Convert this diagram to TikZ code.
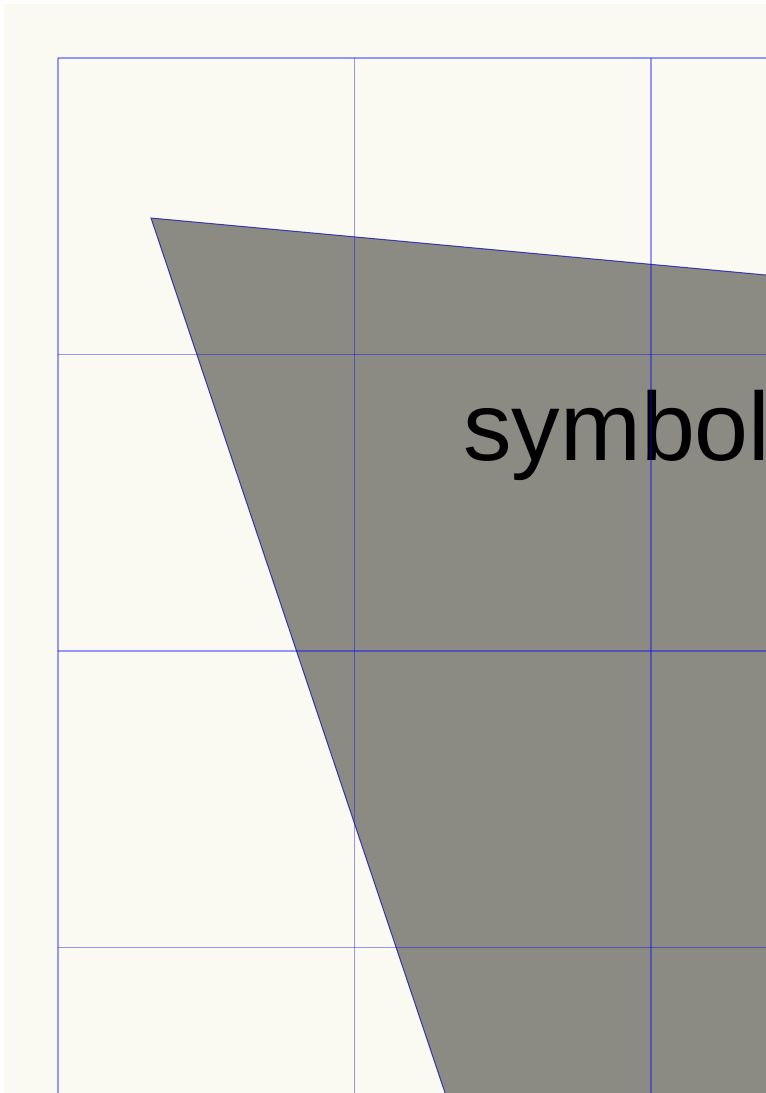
\documentclass[tikz,border=0pt]{standalone}
\usepackage{fontspec}
\setmainfont{Liberation Sans}
\usepackage{tikz}
\usetikzlibrary{positioning}
\definecolor{paper}{RGB}{250,250,242}
\definecolor{shadegray}{RGB}{139,139,132}
\definecolor{gridblue}{RGB}{0,0,255}
\tikzset{
  gridline/.style={gridblue,opacity=0.4,line width=1.3pt},
  shapeedge/.style={gridblue!70!black,opacity=0.7,line width=1pt},
  bigtext/.style={font=\fontsize{97}{97}\selectfont,inner sep=0pt,anchor=base west}
}
\begin{document}
\begin{tikzpicture}[x=1pt,y=-1pt]
        \useasboundingbox (0,0) rectangle (766,1093);
        \clip (0,0) rectangle (766,1093);
        \fill[white] (0,0) rectangle (766,1093);
        \fill[paper] (4,4) rectangle (766,1093);
        % shaded quadrilateral
        \coordinate (qa) at (151,218);
        \coordinate (qb) at (900,287.4);
        \coordinate (qc) at (900,1200);
        \coordinate (qd) at (481,1200);
        \fill[shadegray] (qa) -- (qb) -- (qc) -- (qd) -- cycle;
        \draw[shapeedge] (qd) -- (qa) -- (qb);
        \node[bigtext] (sym) at (463,460) {symbol};
        % grid
        \foreach \x in {58,354.5,651}
          \draw[gridline] (\x,58) -- (\x,1100);
        \foreach \y in {58,354.5,651,947.5}
          \draw[gridline] (58,\y) -- (780,\y);
      \end{tikzpicture}
\end{document}
